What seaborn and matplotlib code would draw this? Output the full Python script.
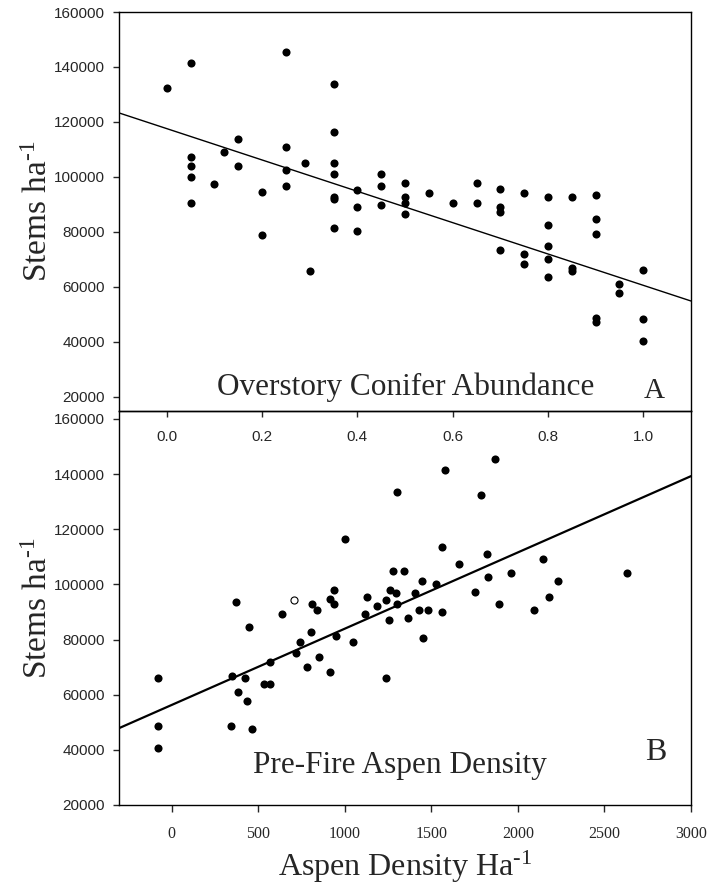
import matplotlib
matplotlib.use("Agg")
import matplotlib.pyplot as plt
import seaborn as sns
import numpy as np
import pandas as pd

# ---- data ----
conifer_x = [0.0,
             0.05, 0.05, 0.05, 0.05, 0.05,
             0.10, 0.12, 0.15, 0.15, 0.20, 0.20,
             0.25, 0.25, 0.25, 0.25, 0.29, 0.30,
             0.35, 0.35, 0.35, 0.35, 0.35, 0.35, 0.35,
             0.40, 0.40, 0.40, 0.45, 0.45, 0.45,
             0.50, 0.50, 0.50, 0.50, 0.55, 0.60, 0.65, 0.65,
             0.70, 0.70, 0.70, 0.70, 0.75, 0.75, 0.75,
             0.80, 0.80, 0.80, 0.80, 0.80, 0.85, 0.85, 0.85,
             0.90, 0.90, 0.90, 0.90, 0.90, 0.95, 0.95,
             1.00, 1.00, 1.00]
conifer_stems = [132500,
                 141600, 107300, 104100, 100100, 90700,
                 97300, 109100, 113800, 104100, 94700, 79000,
                 145600, 110900, 102700, 96700, 105000, 65900,
                 133700, 116400, 105100, 101100, 92900, 92000, 81300,
                 95400, 89000, 80300, 101100, 96700, 89800,
                 97900, 92800, 90500, 86400, 94200, 90500, 97900, 90500,
                 95500, 89200, 87400, 73500, 94200, 72000, 68300,
                 92800, 82500, 75000, 70100, 63700, 92800, 67000, 65900,
                 93500, 84600, 79200, 48600, 47400, 61000, 57700,
                 66100, 48500, 40500]

aspen_x = [-79, -79, -79, 341, 349, 372, 385, 422, 434, 447, 462, 532, 565, 568,
           634, 715, 738, 780, 807, 811, 838, 848, 913, 917, 936, 936, 946,
           1002, 1048, 1116, 1129, 1187, 1237, 1239, 1256, 1260, 1276, 1293,
           1302, 1302, 1343, 1364, 1405, 1428, 1447, 1449, 1480, 1526, 1564,
           1564, 1578, 1657, 1751, 1788, 1821, 1826, 1869, 1892, 1959, 2094,
           2146, 2177, 2232, 2632]
aspen_stems = [66200, 48700, 40800, 48700, 66800, 93500, 61100, 66200, 57800,
               84700, 47600, 63900, 63900, 72000, 89200, 75200, 79100, 70200,
               82600, 92900, 90600, 73700, 94700, 68200, 97900, 92900, 81400,
               116400, 79100, 89200, 95600, 92200, 94200, 66200, 87100, 98000,
               105000, 96800, 133600, 92900, 105000, 87700, 96800, 90600,
               101200, 80500, 90600, 100200, 113700, 89900, 141500, 107300,
               97400, 132400, 110900, 102800, 145500, 92900, 104300, 90600,
               109200, 95600, 101200, 104300]
open_x = [707]
open_stems = [94200]

# fitted regression lines (intercept, slope) as shown in the figure
fit_conifer = (117600, -57000)
fit_aspen = (56300, 27.66)

stem_ticks = [20000, 40000, 60000, 80000, 100000, 120000, 140000, 160000]
conifer_ticks = [0.0, 0.2, 0.4, 0.6, 0.8, 1.0]
aspen_ticks = [0, 500, 1000, 1500, 2000, 2500, 3000]

# ---- style ----
sns.set_style("ticks")
plt.rcParams["font.family"] = ["Liberation Serif", "DejaVu Serif"]
plt.rcParams["mathtext.fontset"] = "custom"
plt.rcParams["mathtext.rm"] = "Liberation Serif"
plt.rcParams["mathtext.it"] = "Liberation Serif:italic"
plt.rcParams["axes.linewidth"] = 1.0

SERIF = "Liberation Serif"
SANS = "Liberation Sans"
SUP = "$^{\\text{-1}}$"

fig = plt.figure(figsize=(7.08, 8.86), dpi=100)
fig.patch.set_facecolor("white")
W, H = 708, 886
left, right = 119 / W, 691 / W
ax_top = fig.add_axes([left, 1 - 411 / H, right - left, (411 - 12) / H])
ax_bot = fig.add_axes([left, 1 - 805 / H, right - left, (805 - 411) / H])
ax_top.set_zorder(3)
ax_top.patch.set_alpha(0)
ax_bot.set_zorder(1)

df_c = pd.DataFrame({"x": conifer_x, "y": conifer_stems})
df_a = pd.DataFrame({"x": aspen_x, "y": aspen_stems})
df_o = pd.DataFrame({"x": open_x, "y": open_stems})

# top panel
ax_top.set_xlim(-0.1, 1.1)
ax_top.set_ylim(14900, 160000)
sns.scatterplot(data=df_c, x="x", y="y", ax=ax_top, color="black", s=34,
                edgecolor="black", linewidth=0, zorder=3)
xs = np.array(ax_top.get_xlim())
sns.lineplot(x=xs, y=fit_conifer[0] + fit_conifer[1] * xs, ax=ax_top,
             color="black", linewidth=1.0, zorder=2)

# bottom panel
ax_bot.set_xlim(-305, 3000)
ax_bot.set_ylim(20000, 162900)
sns.scatterplot(data=df_a, x="x", y="y", ax=ax_bot, color="black", s=34,
                edgecolor="black", linewidth=0, zorder=3)
sns.scatterplot(data=df_o, x="x", y="y", ax=ax_bot, color="white", s=26,
                edgecolor="black", linewidth=0.8, zorder=3)
xs = np.array(ax_bot.get_xlim())
sns.lineplot(x=xs, y=fit_aspen[0] + fit_aspen[1] * xs, ax=ax_bot,
             color="black", linewidth=1.6, zorder=2)

for ax in (ax_top, ax_bot):
    for sp in ax.spines.values():
        sp.set_visible(True)
        sp.set_linewidth(1.0)
        sp.set_color("black")
    ax.set_yticks(stem_ticks)
    ax.set_yticklabels([str(v) for v in stem_ticks], fontfamily=SANS, fontsize=11)
    ax.tick_params(axis="y", direction="out", length=4, width=1, pad=6)
    ax.set_ylabel("Stems ha" + SUP, fontfamily=SERIF, fontsize=24)
    ax.yaxis.set_label_coords(-0.114, 0.5)
    ax.set_xlabel("")

ax_top.set_xticks(conifer_ticks)
ax_top.set_xticklabels([f"{v:.1f}" for v in conifer_ticks], fontfamily=SANS, fontsize=11)
ax_top.tick_params(axis="x", direction="out", length=4, width=1, pad=10)

ax_bot.set_xticks(aspen_ticks)
ax_bot.set_xticklabels([str(v) for v in aspen_ticks], fontfamily=SERIF, fontsize=11.5)
ax_bot.tick_params(axis="x", direction="out", length=5, width=1, pad=10)
ax_bot.set_xlabel("Aspen Density Ha" + SUP, fontfamily=SERIF,
                  fontsize=23, labelpad=5)

ax_top.text(0.105, 20700, "Overstory Conifer Abundance", fontfamily=SERIF,
            fontsize=22.5, ha="left", va="baseline")
ax_top.text(1.0, 19600, "A", fontfamily=SERIF, fontsize=21, ha="left", va="baseline")
ax_bot.text(468, 31600, "Pre-Fire Aspen Density", fontfamily=SERIF,
            fontsize=22.5, ha="left", va="baseline")
ax_bot.text(2734, 36300, "B", fontfamily=SERIF, fontsize=23, ha="left", va="baseline")

fig.savefig("out.png", dpi=100, facecolor="white")
